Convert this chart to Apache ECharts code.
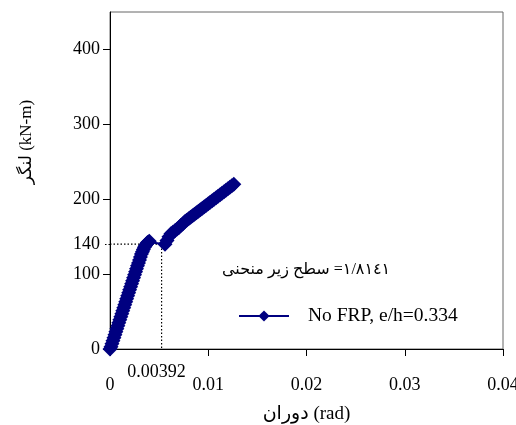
<!DOCTYPE html>
<html>
<head>
<meta charset="utf-8">
<script src="https://cdn.jsdelivr.net/npm/echarts@6/dist/echarts.min.js"></script>
<style>html,body{margin:0;padding:0;background:#fff;}#c{width:516px;height:425px;}</style>
</head>
<body>
<div id="c"></div>
<script>
// rotation (rad) and moment (kN-m)
const rotation = [0,0.0001,0.0002,0.0003,0.0004,0.0005,0.0006,0.0007,0.0008,0.0009,0.0010,0.0011,0.0012,0.0013,0.0014,0.0015,0.0016,0.0017,0.0018,0.0019,0.0020,0.0021,0.0022,0.0023,0.0024,0.0025,0.0026,0.0027,0.0028,0.0029,0.0030,0.0031,0.0032,0.0033,0.0034,0.0035,0.0036,0.0037,0.0038,0.0039,0.0040,
  0.0056,0.0058,0.0060,0.0062,0.0064,0.0066,0.0068,0.0070,0.0072,0.0074,0.0076,0.0078,0.0080,0.0082,0.0084,0.0086,0.0088,0.0090,0.0092,0.0094,0.0096,0.0098,0.0100,0.0102,0.0104,0.0106,0.0108,0.0110,0.0112,0.0114,0.0116,0.0118,0.0120,0.0122,0.0124,0.0126];
const moment = [0,3,7,11,15,19,23,27,31,35,39,43,47,51,55,59,63,67,71,75,79,83,87,91,95,99,103,107,111,115,119,123,127,130,133,136,138,140,142,143,144,
  140,145,150,154,156,158,160,162,165,167,170,172,174,176,178,180,182,184,186,188,190,192,194,196,198,200,202,204,206,208,210,212,214,216,218,220];
const seriesName = 'No FRP, e/h=0.334';
const guideRotation = [0, 0.00525, 0.00525];
const guideMoment = [140, 140, 0];
const guideLabel = '0.00392';
const yTicks = [0, 100, 200, 300, 400];
const yLabels = [0, 100, 140, 200, 300, 400];
const areaText = 'سطح زیر منحنی \u200E=١/٨١٤١';
const xTitle = 'دوران (rad)';
const yTitle = 'لنگر (kN-m)';

const FONT = "'Liberation Serif', 'DejaVu Sans', serif";
const chart = echarts.init(document.getElementById('c'), null, {renderer: 'canvas'});
const mainData = rotation.map((x, i) => [x, moment[i]]);
const guideData = guideRotation.map((x, i) => [x, guideMoment[i]]);

chart.setOption({
  animation: false,
  backgroundColor: '#fff',
  grid: {left: 110, right: 13, top: 12, bottom: 76, outerBoundsMode: 'none', containLabel: false, show: true, borderColor: '#666', borderWidth: 1, backgroundColor: 'transparent'},
  xAxis: [{
    type: 'value', min: 0, max: 0.04, interval: 0.01,
    axisLine: {show: true, lineStyle: {color: '#000', width: 1}},
    axisTick: {show: true, inside: false, length: 7, lineStyle: {color: '#000'}},
    axisLabel: {color: '#000', fontFamily: FONT, fontSize: 18, margin: 27},
    splitLine: {show: false},
    name: xTitle, nameLocation: 'middle', nameGap: 56,
    nameTextStyle: {color: '#000', fontFamily: FONT, fontSize: 19}
  }, {
    type: 'value', min: 0, max: 0.04, position: 'bottom',
    axisLine: {show: false}, axisTick: {show: false}, splitLine: {show: false},
    axisLabel: {customValues: [guideRotation[1]], formatter: () => guideLabel, color: '#000', fontFamily: FONT, fontSize: 18, margin: 14, padding: [0, 10, 0, 0]}
  }],
  yAxis: [{
    type: 'value', min: 0, max: 450,
    axisLine: {show: true, lineStyle: {color: '#000', width: 1}},
    axisTick: {show: true, inside: false, length: 7, customValues: yTicks, lineStyle: {color: '#000'}},
    axisLabel: {customValues: yLabels, color: '#000', fontFamily: FONT, fontSize: 18, margin: 10},
    splitLine: {show: false}
  }, {
    type: 'value', min: 0, max: 450, position: 'left',
    axisLine: {show: false}, splitLine: {show: false}, axisLabel: {show: false},
    axisTick: {show: true, inside: false, length: 7, customValues: [140], lineStyle: {color: '#000', type: [1.5, 2], width: 1.2}}
  }],
  legend: {
    data: [seriesName], left: 238, top: 306, padding: 0, itemWidth: 50, itemHeight: 14,
    textStyle: {color: '#000', fontFamily: FONT, fontSize: 19.5, padding: [0, 0, 0, 14]}
  },
  graphic: [{
    type: 'text', left: 222, top: 262,
    style: {text: areaText, font: "16px 'Liberation Serif', 'DejaVu Sans', serif", fill: '#000'}
  }, {
    type: 'text', x: 27, y: 142, rotation: Math.PI / 2,
    style: {text: yTitle, font: "17px 'Liberation Serif', 'DejaVu Sans', serif", fill: '#000', align: 'center', verticalAlign: 'middle'}
  }],
  series: [{
    name: 'guide', type: 'line', data: guideData, symbol: 'none', silent: true,
    lineStyle: {color: '#000', width: 1.2, type: [1.5, 2]}, z: 1
  }, {
    name: seriesName, type: 'line', data: mainData, symbol: 'diamond', symbolSize: 15,
    itemStyle: {color: '#000080'}, lineStyle: {color: '#000080', width: 2}, z: 3
  }]
});
</script>
</body>
</html>
